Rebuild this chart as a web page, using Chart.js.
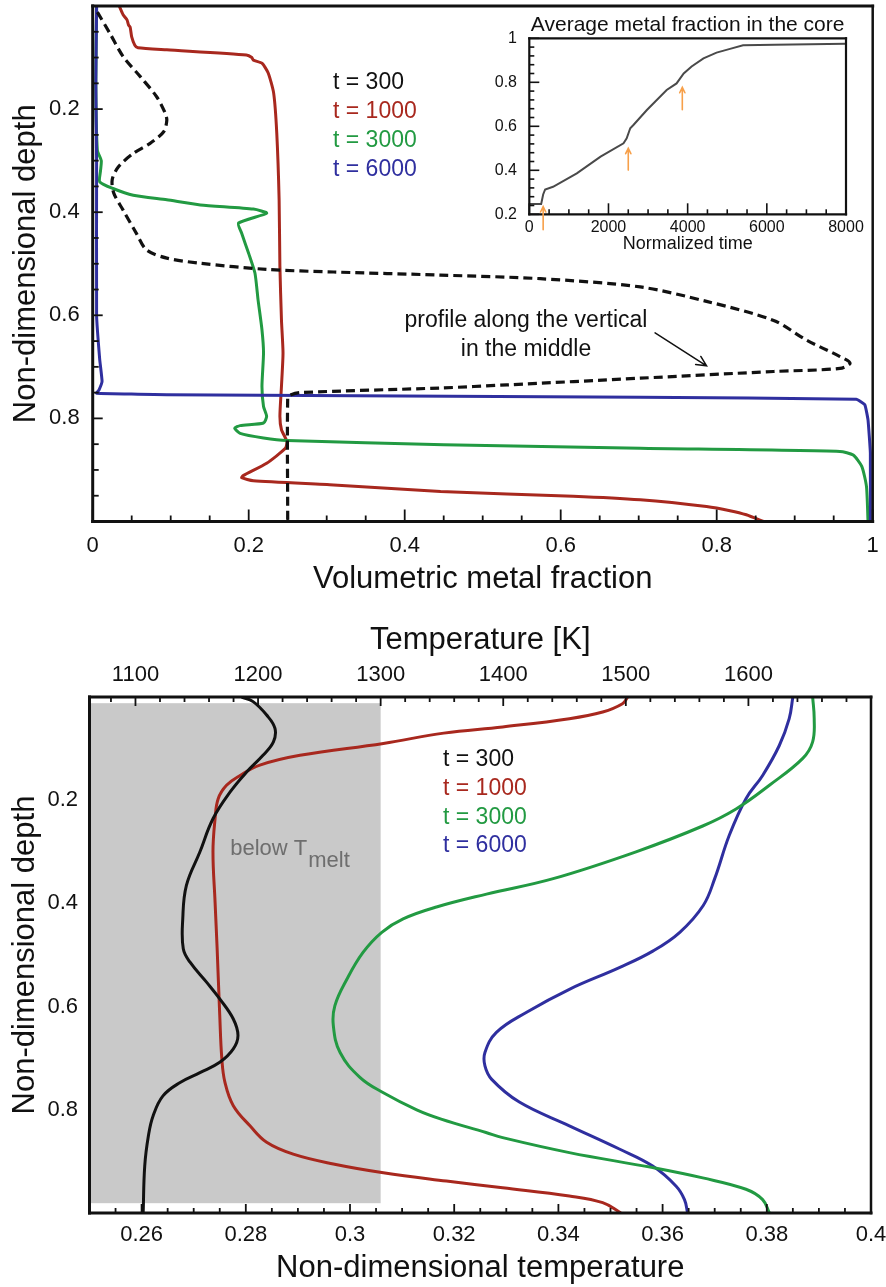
<!DOCTYPE html>
<html>
<head>
<meta charset="utf-8">
<title>Metal fraction and temperature profiles</title>
<script src="https://cdn.jsdelivr.net/npm/chart.js@4.4.1/dist/chart.umd.min.js"></script>
<style>
  html, body { margin: 0; padding: 0; background: #fff; }
  #wrap { position: relative; width: 886px; height: 1287px; overflow: hidden; }
  canvas { position: absolute; }
  #fracChart { left: 0; top: 0; }
  #coreChart { left: 490px; top: 0; }
  #tempChart { left: 0; top: 620px; }
</style>
</head>
<body>
<div id="wrap">
  <canvas id="fracChart" width="886" height="620"></canvas>
  <canvas id="tempChart" width="886" height="667"></canvas>
  <canvas id="coreChart" width="396" height="260"></canvas>
</div>
<script>
/* ================== DATA ================== */
const seriesLabels = ['t = 300', 't = 1000', 't = 3000', 't = 6000'];

// volumetric metal fraction vs depth (t = 300 is the profile along the middle vertical)
const mixDepth300 = [0.012, 0.053, 0.098, 0.137, 0.176, 0.208, 0.222, 0.244, 0.266, 0.286, 0.312, 0.337, 0.363, 0.396, 0.441, 0.473, 0.489, 0.499, 0.511, 0.516, 0.522, 0.529, 0.545, 0.573, 0.610, 0.648, 0.680, 0.693, 0.703, 0.709, 0.722, 0.735, 0.741, 0.750, 0.755, 0.760, 1.0];
const mixFrac300  = [0.006, 0.022, 0.039, 0.061, 0.082, 0.093, 0.095, 0.091, 0.074, 0.052, 0.033, 0.025, 0.027, 0.039, 0.056, 0.069, 0.095, 0.138, 0.223, 0.309, 0.446, 0.574, 0.702, 0.787, 0.873, 0.915, 0.958, 0.971, 0.958, 0.873, 0.702, 0.531, 0.446, 0.266, 0.253, 0.250, 0.250];

const mixDepth1000 = [0.0, 0.017, 0.027, 0.037, 0.041, 0.060, 0.076, 0.081, 0.085, 0.095, 0.100, 0.105, 0.111, 0.130, 0.169, 0.247, 0.376, 0.505, 0.609, 0.673, 0.738, 0.796, 0.822, 0.845, 0.858, 0.887, 0.911, 0.915, 0.921, 0.929, 0.942, 0.951, 0.958, 0.971, 0.979, 0.987, 1.0];
const mixFrac1000  = [0.034, 0.039, 0.044, 0.046, 0.048, 0.050, 0.054, 0.058, 0.095, 0.197, 0.204, 0.206, 0.217, 0.225, 0.232, 0.236, 0.239, 0.240, 0.242, 0.244, 0.242, 0.240, 0.242, 0.249, 0.247, 0.223, 0.193, 0.191, 0.206, 0.309, 0.446, 0.616, 0.702, 0.787, 0.817, 0.838, 0.860];

const mixDepth3000 = [0.0, 0.150, 0.280, 0.300, 0.320, 0.341, 0.354, 0.367, 0.376, 0.386, 0.394, 0.402, 0.421, 0.441, 0.480, 0.518, 0.570, 0.628, 0.673, 0.738, 0.777, 0.796, 0.809, 0.814, 0.819, 0.829, 0.838, 0.843, 0.851, 0.858, 0.864, 0.871, 0.893, 0.932, 1.0];
const mixFrac3000  = [0.005, 0.004, 0.006, 0.011, 0.010, 0.009, 0.026, 0.052, 0.095, 0.138, 0.206, 0.223, 0.187, 0.191, 0.200, 0.208, 0.212, 0.217, 0.219, 0.217, 0.219, 0.223, 0.219, 0.189, 0.182, 0.189, 0.219, 0.249, 0.450, 0.702, 0.958, 0.975, 0.986, 0.992, 0.994];

const mixDepth6000 = [0.0, 0.150, 0.300, 0.600, 0.686, 0.728, 0.745, 0.751, 0.754, 0.757, 0.759, 0.763, 0.774, 0.803, 0.867, 1.0];
const mixFrac6000  = [0.005, 0.004, 0.005, 0.005, 0.009, 0.012, 0.008, 0.005, 0.095, 0.458, 0.702, 0.979, 0.990, 0.994, 0.997, 0.997];

// non-dimensional temperature vs depth
const tempDepth300 = [0.0, 0.009, 0.035, 0.061, 0.087, 0.113, 0.145, 0.184, 0.236, 0.300, 0.365, 0.430, 0.488, 0.514, 0.553, 0.585, 0.624, 0.656, 0.682, 0.708, 0.728, 0.747, 0.773, 0.812, 0.851, 0.909, 1.0];
const temp300      = [0.2792, 0.2814, 0.2840, 0.2856, 0.2853, 0.2833, 0.2802, 0.2770, 0.2737, 0.2712, 0.2686, 0.2679, 0.2680, 0.2693, 0.2725, 0.2750, 0.2776, 0.2785, 0.2776, 0.2750, 0.2712, 0.2674, 0.2641, 0.2622, 0.2613, 0.2606, 0.2603];

const tempDepth1000 = [0.0, 0.013, 0.029, 0.042, 0.058, 0.070, 0.090, 0.113, 0.132, 0.152, 0.171, 0.197, 0.236, 0.300, 0.397, 0.488, 0.617, 0.701, 0.747, 0.792, 0.831, 0.863, 0.886, 0.905, 0.922, 0.938, 0.951, 0.967, 0.980, 1.0];
const temp1000      = [0.3533, 0.3523, 0.3485, 0.3421, 0.3293, 0.3180, 0.3064, 0.2904, 0.2827, 0.2789, 0.2763, 0.2747, 0.2741, 0.2737, 0.2741, 0.2745, 0.2750, 0.2754, 0.2760, 0.2776, 0.2808, 0.2840, 0.2891, 0.2968, 0.3064, 0.3185, 0.3293, 0.3421, 0.3485, 0.3520];

const tempDepth3000 = [0.0, 0.042, 0.087, 0.119, 0.171, 0.217, 0.250, 0.300, 0.352, 0.382, 0.407, 0.430, 0.456, 0.495, 0.547, 0.598, 0.637, 0.689, 0.737, 0.767, 0.800, 0.818, 0.844, 0.854, 0.883, 0.912, 0.932, 0.954, 0.974, 1.0];
const temp3000      = [0.3888, 0.3891, 0.3888, 0.3869, 0.3805, 0.3741, 0.3677, 0.3549, 0.3390, 0.3262, 0.3166, 0.3102, 0.3061, 0.3025, 0.2994, 0.2971, 0.2968, 0.2981, 0.3019, 0.3064, 0.3128, 0.3175, 0.3261, 0.3293, 0.3421, 0.3581, 0.3677, 0.3760, 0.3792, 0.3805];

const tempDepth6000 = [0.0, 0.042, 0.094, 0.152, 0.197, 0.268, 0.352, 0.404, 0.456, 0.492, 0.524, 0.566, 0.611, 0.650, 0.689, 0.715, 0.741, 0.785, 0.831, 0.876, 0.909, 0.948, 0.974, 1.0];
const temp6000      = [0.3850, 0.3843, 0.3824, 0.3792, 0.3760, 0.3728, 0.3700, 0.3678, 0.3633, 0.3582, 0.3518, 0.3422, 0.3339, 0.3281, 0.3259, 0.3259, 0.3272, 0.3325, 0.3421, 0.3517, 0.3581, 0.3626, 0.3642, 0.3648];

// average metal fraction in the core vs normalized time
const coreTime = [0, 300, 350, 400, 600, 1200, 1800, 2380, 2460, 2550, 2630, 2970, 3470, 3720, 3900, 4100, 4400, 4730, 5070, 5400, 6200, 8000];
const coreFrac = [0.247, 0.247, 0.290, 0.313, 0.325, 0.386, 0.462, 0.523, 0.545, 0.591, 0.606, 0.674, 0.765, 0.795, 0.840, 0.872, 0.909, 0.935, 0.952, 0.968, 0.971, 0.975];

// orange markers under the core curve (snapshot times)
const coreArrowTime = [350, 2500, 3865];
const coreArrowTip  = [0.235, 0.500, 0.777];
const coreArrowTail = [0.130, 0.401, 0.675];

// tick values and labels
const fracTicks = [0, 0.2, 0.4, 0.6, 0.8, 1];
const fracTickLabels = ['0', '0.2', '0.4', '0.6', '0.8', '1'];
const depthTicks = [0.2, 0.4, 0.6, 0.8];
const depthTickLabels = ['0.2', '0.4', '0.6', '0.8'];
const thetaTicks = [0.26, 0.28, 0.30, 0.32, 0.34, 0.36, 0.38, 0.40];
const thetaTickLabels = ['0.26', '0.28', '0.3', '0.32', '0.34', '0.36', '0.38', '0.4'];
const kelvinTicks = [1100, 1200, 1300, 1400, 1500, 1600];
const kelvinTickLabels = ['1100', '1200', '1300', '1400', '1500', '1600'];
const timeTicks = [0, 2000, 4000, 6000, 8000];
const timeTickLabels = ['0', '2000', '4000', '6000', '8000'];
const coreTicks = [0.2, 0.4, 0.6, 0.8, 1];
const coreTickLabels = ['0.2', '0.4', '0.6', '0.8', '1'];

const THETA_MIN = 0.25, THETA_MAX = 0.40;
const T_SCALE = 4250;   // kelvin per unit of non-dimensional temperature
const T_MELT = 1300;

/* ================== STYLE ================== */
const FONT = "'Liberation Sans', Arial, Helvetica, sans-serif";
const INK = '#111';
const RED = '#a8281e';
const GREEN = '#229a42';
const BLUE = '#2f2f9f';

Chart.defaults.font.family = FONT;
Chart.defaults.color = INK;
Chart.defaults.animation = false;
Chart.defaults.elements.point.radius = 0;
Chart.defaults.elements.point.hoverRadius = 0;
Chart.defaults.plugins.legend.display = false;
Chart.defaults.plugins.tooltip.enabled = false;

/* ================== HELPERS ================== */
const pts = (xs, ys) => xs.map((x, i) => ({ x: x, y: ys[i] }));

// linear axis with fixed tick positions and texts, no library grid
function axis(opt) {
  const scale = {
    type: 'linear',
    position: opt.position,
    min: opt.min,
    max: opt.max,
    reverse: !!opt.reverse,
    bounds: 'data',
    grid: { display: false, drawTicks: false },
    border: { display: false },
    afterBuildTicks: s => { s.ticks = opt.ticks.map(v => ({ value: v })); },
    afterFit: s => {
      if (opt.size !== undefined) {
        if (s.isHorizontal()) s.height = opt.size; else s.width = opt.size;
      }
      s.paddingLeft = s.paddingRight = s.paddingTop = s.paddingBottom = 0;
    },
    ticks: {
      autoSkip: false,
      maxRotation: 0,
      minRotation: 0,
      padding: opt.tickPad,
      font: { size: opt.tickSize },
      callback: (v, i) => opt.labels[i]
    }
  };
  if (opt.title) {
    scale.title = {
      display: true,
      text: opt.title,
      font: { size: opt.titleSize },
      padding: opt.titlePad
    };
  }
  return scale;
}

/* ================== PLUGINS ================== */
// inward tick marks, box frame and optional shaded band
const axesFrame = {
  id: 'axesFrame',
  beforeDatasetsDraw(chart, args, opts) {
    const band = opts.band;
    if (!band) return;
    const { ctx } = chart;
    const sx = chart.scales.x, sy = chart.scales.y;
    const x0 = sx.getPixelForValue(band.x0), x1 = sx.getPixelForValue(band.x1);
    const y0 = sy.getPixelForValue(band.y0), y1 = sy.getPixelForValue(band.y1);
    ctx.save();
    ctx.fillStyle = band.color;
    ctx.fillRect(x0, y0, x1 - x0, y1 - y0);
    ctx.restore();
  },
  afterDraw(chart, args, opts) {
    const { ctx, chartArea: a } = chart;
    ctx.save();
    ctx.strokeStyle = INK;
    ctx.lineCap = 'butt';
    (opts.marks || []).forEach(t => {
      const s = chart.scales[t.scale];
      ctx.lineWidth = t.width;
      const lo = Math.min(s.min, s.max), hi = Math.max(s.min, s.max);
      const k0 = Math.ceil(lo / t.minor - 1e-6), k1 = Math.floor(hi / t.minor + 1e-6);
      for (let k = k0; k <= k1; k++) {
        const v = k * t.minor;
        const r = v / t.major;
        const len = Math.abs(r - Math.round(r)) < 1e-6 ? t.majorLen : t.minorLen;
        const p = s.getPixelForValue(v);
        ctx.beginPath();
        if (t.side === 'bottom') { ctx.moveTo(p, a.bottom); ctx.lineTo(p, a.bottom - len); }
        else if (t.side === 'top') { ctx.moveTo(p, a.top); ctx.lineTo(p, a.top + len); }
        else { ctx.moveTo(a.left, p); ctx.lineTo(a.left + len, p); }
        ctx.stroke();
      }
    });
    const f = opts.frame;
    if (f) {
      ctx.lineCap = 'square';
      const sides = [
        [f.top, a.left, a.top, a.right, a.top],
        [f.right, a.right, a.top, a.right, a.bottom],
        [f.bottom, a.left, a.bottom, a.right, a.bottom],
        [f.left, a.left, a.top, a.left, a.bottom]
      ];
      sides.forEach(([w, x0, y0, x1, y1]) => {
        if (!w) return;
        ctx.lineWidth = w;
        ctx.beginPath();
        ctx.moveTo(x0, y0);
        ctx.lineTo(x1, y1);
        ctx.stroke();
      });
    }
    ctx.restore();
  }
};

// coloured dataset labels stacked inside the plot
const profileLegend = {
  id: 'profileLegend',
  afterDatasetsDraw(chart, args, opts) {
    if (!opts.left) return;
    const { ctx } = chart;
    ctx.save();
    ctx.font = opts.size + 'px ' + FONT;
    ctx.textAlign = 'left';
    ctx.textBaseline = 'middle';
    chart.data.datasets.forEach((ds, i) => {
      ctx.fillStyle = ds.borderColor;
      ctx.fillText(ds.label, opts.left, opts.top + i * opts.gap);
    });
    ctx.restore();
  }
};

// text notes and arrows placed in data coordinates
const notes = {
  id: 'notes',
  afterDraw(chart, args, opts) {
    const { ctx } = chart;
    const sx = chart.scales.x, sy = chart.scales.y;
    ctx.save();
    (opts.texts || []).forEach(n => {
      const px = sx.getPixelForValue(n.x), py = sy.getPixelForValue(n.y);
      ctx.font = n.size + 'px ' + FONT;
      ctx.fillStyle = n.color || INK;
      ctx.textAlign = n.align || 'left';
      ctx.textBaseline = 'middle';
      ctx.fillText(n.text, px, py);
      if (n.sub) {
        const w = ctx.measureText(n.text).width;
        ctx.textAlign = 'left';
        ctx.fillText(n.sub, px + w + 1, py + n.subDrop);
      }
    });
    (opts.arrows || []).forEach(ar => {
      const x0 = sx.getPixelForValue(ar.x0), y0 = sy.getPixelForValue(ar.y0);
      const x1 = sx.getPixelForValue(ar.x1), y1 = sy.getPixelForValue(ar.y1);
      const ang = Math.atan2(y1 - y0, x1 - x0);
      ctx.strokeStyle = ar.color;
      ctx.lineWidth = ar.width;
      ctx.lineCap = 'round';
      ctx.beginPath();
      ctx.moveTo(x0, y0);
      ctx.lineTo(x1, y1);
      ctx.moveTo(x1 - ar.head * Math.cos(ang - 0.45), y1 - ar.head * Math.sin(ang - 0.45));
      ctx.lineTo(x1, y1);
      ctx.lineTo(x1 - ar.head * Math.cos(ang + 0.45), y1 - ar.head * Math.sin(ang + 0.45));
      ctx.stroke();
    });
    ctx.restore();
  }
};

Chart.register(axesFrame, profileLegend, notes);

/* ================== METAL FRACTION PROFILES ================== */
function profile(label, data, color, extra) {
  return Object.assign({
    label: label,
    data: data,
    borderColor: color,
    borderWidth: 3,
    tension: 0.2,
    fill: false
  }, extra || {});
}

new Chart(document.getElementById('fracChart'), {
  type: 'line',
  data: {
    datasets: [
      profile(seriesLabels[0], pts(mixFrac300, mixDepth300), INK,
        { borderDash: [9, 5], borderWidth: 3.2, tension: 0.3, order: 0 }),
      profile(seriesLabels[1], pts(mixFrac1000, mixDepth1000), RED, { order: 3 }),
      profile(seriesLabels[2], pts(mixFrac3000, mixDepth3000), GREEN, { order: 2 }),
      profile(seriesLabels[3], pts(mixFrac6000, mixDepth6000), BLUE, { order: 1, tension: 0.1 })
    ]
  },
  options: {
    responsive: false,
    layout: { padding: { top: 6, right: 13.3, bottom: 0, left: 0 } },
    scales: {
      x: axis({
        position: 'bottom', min: 0, max: 1, ticks: fracTicks, labels: fracTickLabels,
        size: 98.5, tickPad: 11.3, tickSize: 22,
        title: 'Volumetric metal fraction', titleSize: 31, titlePad: { top: 0, bottom: 22 }
      }),
      y: axis({
        position: 'left', min: 0, max: 1, reverse: true, ticks: depthTicks, labels: depthTickLabels,
        size: 92.7, tickPad: 13, tickSize: 22,
        title: 'Non-dimensional depth', titleSize: 31, titlePad: { top: 8, bottom: 0 }
      })
    },
    plugins: {
      axesFrame: {
        marks: [
          { scale: 'x', side: 'bottom', minor: 0.05, major: 0.2, majorLen: 12, minorLen: 6, width: 1.8 },
          { scale: 'y', side: 'left', minor: 0.05, major: 0.2, majorLen: 10, minorLen: 6, width: 1.8 }
        ],
        frame: { top: 3, right: 2.5, bottom: 3, left: 3 }
      },
      profileLegend: { left: 333, top: 83, gap: 29, size: 23 },
      notes: {
        texts: [
          { x: 0.5555, y: 0.611, text: 'profile along the vertical', size: 23, align: 'center' },
          { x: 0.5555, y: 0.667, text: 'in the middle', size: 23, align: 'center' }
        ],
        arrows: [
          { x0: 0.721, y0: 0.634, x1: 0.787, y1: 0.698, color: INK, width: 1.5, head: 11 }
        ]
      }
    }
  }
});

/* ================== CORE AVERAGE (INSET) ================== */
new Chart(document.getElementById('coreChart'), {
  type: 'line',
  data: {
    datasets: [{
      label: 'core',
      data: pts(coreTime, coreFrac),
      borderColor: '#4a4a4a',
      borderWidth: 2,
      tension: 0
    }]
  },
  options: {
    responsive: false,
    layout: { padding: { top: 0, right: 40, bottom: 0, left: 0 } },
    scales: {
      x: axis({
        position: 'bottom', min: 0, max: 8000, ticks: timeTicks, labels: timeTickLabels,
        size: 45.7, tickPad: 4.1, tickSize: 16,
        title: 'Normalized time', titleSize: 18, titlePad: { top: 0, bottom: 4.7 }
      }),
      y: axis({
        position: 'left', min: 0.2, max: 1, ticks: coreTicks, labels: coreTickLabels,
        size: 39.3, tickPad: 12.3, tickSize: 16
      })
    },
    plugins: {
      title: {
        display: true,
        text: 'Average metal fraction in the core',
        fullSize: false,
        color: INK,
        font: { size: 21, weight: 'normal' },
        padding: { top: 12.5, bottom: 0.6 }
      },
      axesFrame: {
        marks: [
          { scale: 'x', side: 'bottom', minor: 500, major: 2000, majorLen: 11, minorLen: 5, width: 1.6 },
          { scale: 'y', side: 'left', minor: 0.04, major: 0.2, majorLen: 10, minorLen: 5, width: 1.6 }
        ],
        frame: { top: 2.2, right: 2.2, bottom: 2.2, left: 2.2 }
      },
      notes: {
        arrows: coreArrowTime.map((t, i) => ({
          x0: t, y0: coreArrowTail[i], x1: t, y1: coreArrowTip[i],
          color: '#f7a04a', width: 1.6, head: 6
        }))
      }
    }
  }
});

/* ================== TEMPERATURE PROFILES ================== */
new Chart(document.getElementById('tempChart'), {
  type: 'line',
  data: {
    datasets: [
      profile(seriesLabels[0], pts(temp300, tempDepth300), INK, { tension: 0.4 }),
      profile(seriesLabels[1], pts(temp1000, tempDepth1000), RED, { tension: 0.4 }),
      profile(seriesLabels[2], pts(temp3000, tempDepth3000), GREEN, { tension: 0.4 }),
      profile(seriesLabels[3], pts(temp6000, tempDepth6000), BLUE, { tension: 0.4 })
    ]
  },
  options: {
    responsive: false,
    layout: { padding: { top: 0, right: 15, bottom: 0, left: 0 } },
    scales: {
      x: axis({
        position: 'bottom', min: THETA_MIN, max: THETA_MAX, ticks: thetaTicks, labels: thetaTickLabels,
        size: 74, tickPad: 8.8, tickSize: 22,
        title: 'Non-dimensional temperature', titleSize: 31, titlePad: { top: 0, bottom: 0 }
      }),
      xT: axis({
        position: 'top', min: THETA_MIN * T_SCALE, max: THETA_MAX * T_SCALE,
        ticks: kelvinTicks, labels: kelvinTickLabels,
        size: 77, tickPad: 8.8, tickSize: 22,
        title: 'Temperature [K]', titleSize: 31, titlePad: { top: 1.4, bottom: 0 }
      }),
      y: axis({
        position: 'left', min: 0, max: 1, reverse: true, ticks: depthTicks, labels: depthTickLabels,
        size: 89.5, tickPad: 11.5, tickSize: 22,
        title: 'Non-dimensional depth', titleSize: 31, titlePad: { top: 7, bottom: 0 }
      })
    },
    plugins: {
      axesFrame: {
        band: { x0: THETA_MIN, x1: T_MELT / T_SCALE, y0: 0.012, y1: 0.981, color: '#c9c9c9' },
        marks: [
          { scale: 'x', side: 'bottom', minor: 0.005, major: 0.02, majorLen: 9, minorLen: 5, width: 1.8 },
          { scale: 'xT', side: 'top', minor: 20, major: 100, majorLen: 9, minorLen: 5, width: 1.8 }
        ],
        frame: { top: 3, right: 2.5, bottom: 3, left: 3 }
      },
      profileLegend: { left: 443, top: 140, gap: 28.7, size: 23 },
      notes: {
        texts: [
          { x: 0.2770, y: 0.294, text: 'below T', sub: 'melt', subDrop: 12, size: 22, color: '#6e6e6e' }
        ]
      }
    }
  }
});
</script>
</body>
</html>
